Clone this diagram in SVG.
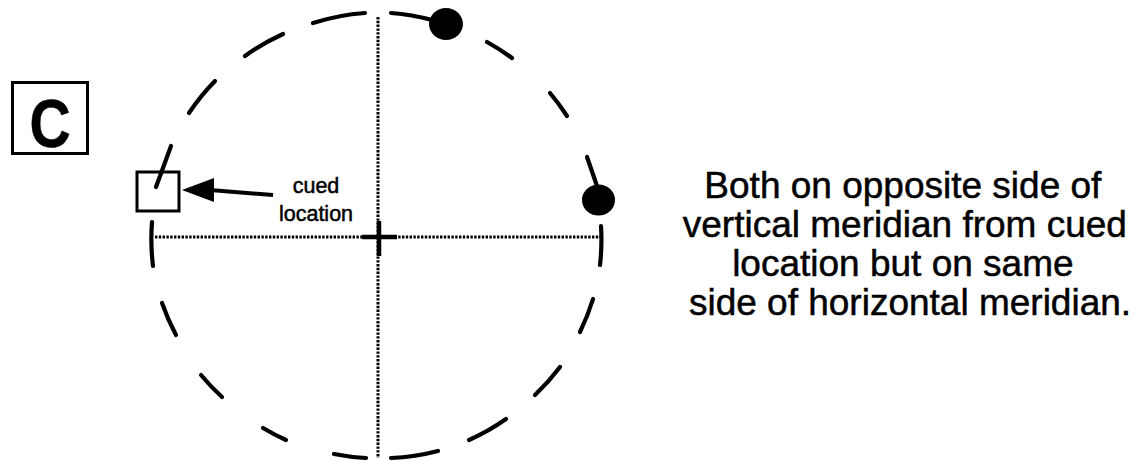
<svg xmlns="http://www.w3.org/2000/svg" width="1139" height="461" viewBox="0 0 1139 461">
<style>
.dash{fill:none;stroke:#000;stroke-width:4.2;stroke-linecap:round}
.dot{fill:none;stroke:#000;stroke-width:3;stroke-dasharray:2.4 1.4}
.txt{font-family:"Liberation Sans",Arial,Helvetica,sans-serif;fill:#000;stroke:#000;stroke-width:0.5}
.box{fill:#fff;stroke:#000;stroke-width:3}
</style>
<rect width="1139" height="461" fill="#fff"/>
<g id="panel-label">
<rect class="box" x="12.5" y="82.5" width="75" height="71"/>
<text class="txt" transform="translate(50,147) scale(0.92,1.12)" font-size="62" font-weight="bold" text-anchor="middle">C</text>
</g>
<g id="meridians">
<line class="dot" x1="155" y1="237" x2="600" y2="237"/>
<line class="dot" x1="378" y1="17" x2="378" y2="458"/>
</g>
<g id="fixation">
<line x1="362" y1="237" x2="397" y2="237" stroke="#000" stroke-width="4.5"/>
<line x1="379" y1="221" x2="379" y2="256" stroke="#000" stroke-width="4.5"/>
</g>
<g id="circle">
<path class="dash" d="M313 23 A223 223 0 0 1 365 13"/>
<path class="dash" d="M391 13 A223 223 0 0 1 432 20"/>
<path class="dash" d="M487 42 A223 223 0 0 1 512 58"/>
<path class="dash" d="M550 93 A223 223 0 0 1 567 116"/>
<path class="dash" d="M587 157 L597 186"/>
<path class="dash" d="M601 226 A223 223 0 0 1 600 265"/>
<path class="dash" d="M593 299 A223 223 0 0 1 580 332"/>
<path class="dash" d="M560 367 A223 223 0 0 1 535 395"/>
<path class="dash" d="M506 419 A223 223 0 0 1 469 440"/>
<path class="dash" d="M438 451 A223 223 0 0 1 391 458"/>
<path class="dash" d="M366 458 A223 223 0 0 1 334 454"/>
<path class="dash" d="M286 440 A223 223 0 0 1 263 428"/>
<path class="dash" d="M222 397 A223 223 0 0 1 201 375"/>
<path class="dash" d="M176 335 A223 223 0 0 1 162 303"/>
<path class="dash" d="M153 266 A223 223 0 0 1 152 222"/>
<path class="dash" d="M156 187 L171 146"/>
<path class="dash" d="M189 113 A223 223 0 0 1 215 81"/>
<path class="dash" d="M245 56 A223 223 0 0 1 283 34"/>
</g>
<g id="target-top">
<ellipse cx="446" cy="24" rx="17" ry="16" fill="#000"/>
</g>
<g id="target-right">
<ellipse cx="598.5" cy="200" rx="16.5" ry="15.5" fill="#000"/>
</g>
<g id="cue">
<rect x="137" y="172" width="42" height="39" fill="none" stroke="#000" stroke-width="3"/>
</g>
<g id="connectors">
<line x1="210" y1="190" x2="273" y2="195" stroke="#000" stroke-width="4"/>
<polygon points="182,190 214,178 214,202" fill="#000"/>
</g>
<g id="cue-label">
<text class="txt" x="316" y="193" font-size="21.5" text-anchor="middle" stroke-width="0.3">cued</text>
<text class="txt" x="316" y="221" font-size="21.5" text-anchor="middle" stroke-width="0.3">location</text>
</g>
<g id="caption">
<text class="txt" font-size="37" text-anchor="middle">
<tspan x="908" y="198">Both on opposite side of</tspan>
<tspan x="910" y="237">vertical meridian from cued</tspan>
<tspan x="908" y="276">location but on same</tspan>
<tspan x="910" y="315">side of horizontal meridian.</tspan>
</text>
</g>
</svg>
